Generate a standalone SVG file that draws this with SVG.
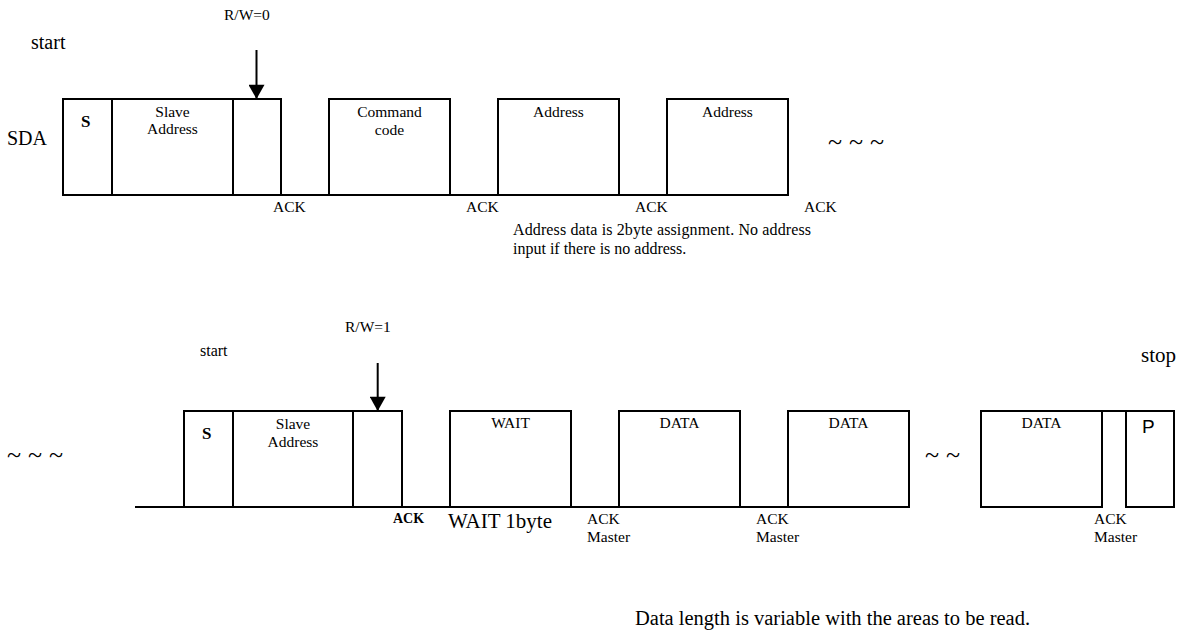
<svg xmlns="http://www.w3.org/2000/svg" width="1182" height="630" viewBox="0 0 1182 630">
<style>
text{font-family:"Liberation Serif","Times New Roman",serif;fill:#000}
.box{fill:#fff;stroke:#000;stroke-width:2}
.wire{fill:none;stroke:#000;stroke-width:2}
.lbl{font-size:15.5px}
.mid{text-anchor:middle}
.big{font-size:20px}
.sb{font-size:17px;font-weight:bold}
.tl{font-size:26px}
.arr{stroke:#000;stroke-width:2;fill:none}
</style>
<defs>
<marker id="ah" markerUnits="userSpaceOnUse" markerWidth="18" markerHeight="16" refX="16" refY="9" orient="auto" viewBox="0 0 16 18">
<path d="M0,0 L16,9 L0,18 z" fill="#000"/>
</marker>
</defs>
<rect width="1182" height="630" fill="#fff"/>

<!-- top labels -->
<text class="lbl" x="224" y="20">R/W=0</text>
<text class="big" x="31" y="49">start</text>
<text class="big" x="7" y="145">SDA</text>
<text class="tl" x="828" y="150" textLength="56">~ ~ ~</text>

<g id="connectors">
<path class="wire" d="M281,195 H329 M450,195 H498 M619,195 H667"/>
<path class="wire" d="M135,507 H184 M402,507 H450 M571,507 H619 M740,507 H788 M1102,411 H1126"/>
<line class="arr" x1="256.5" y1="50" x2="256.5" y2="99" marker-end="url(#ah)"/>
<line class="arr" x1="377.7" y1="363" x2="377.7" y2="411" marker-end="url(#ah)"/>
</g>

<g id="t-s"><rect class="box" x="63" y="99" width="49" height="96"/><text class="sb" x="81" y="127">S</text></g>
<g id="t-slave"><rect class="box" x="112" y="99" width="121" height="96"/><text class="lbl mid" x="172.5" y="117">Slave</text><text class="lbl mid" x="172.5" y="134">Address</text></g>
<g id="t-rw"><rect class="box" x="233" y="99" width="48" height="96"/></g>
<g id="t-cmd"><rect class="box" x="329" y="99" width="121" height="96"/><text class="lbl mid" x="389.5" y="117">Command</text><text class="lbl mid" x="389.5" y="135">code</text></g>
<g id="t-addr1"><rect class="box" x="498" y="99" width="121" height="96"/><text class="lbl mid" x="558.5" y="117">Address</text></g>
<g id="t-addr2"><rect class="box" x="667" y="99" width="121" height="96"/><text class="lbl mid" x="727.5" y="117">Address</text></g>

<text class="lbl" x="273" y="212">ACK</text>
<text class="lbl" x="466" y="212">ACK</text>
<text class="lbl" x="635" y="212">ACK</text>
<text class="lbl" x="804" y="212">ACK</text>
<text x="513" y="235" font-size="16" textLength="298">Address data is 2byte assignment. No address</text>
<text x="513" y="254" font-size="16">input if there is no address.</text>

<!-- bottom labels -->
<text class="lbl" x="345" y="332">R/W=1</text>
<text x="200" y="356" font-size="16">start</text>
<text x="1141" y="362" font-size="21">stop</text>
<text class="tl" x="7" y="463" textLength="56">~ ~ ~</text>
<text class="tl" x="925" y="463" textLength="35">~ ~</text>

<g id="b-s"><rect class="box" x="184" y="411" width="49" height="96"/><text class="sb" x="202" y="439">S</text></g>
<g id="b-slave"><rect class="box" x="233" y="411" width="120" height="96"/><text class="lbl mid" x="293" y="429">Slave</text><text class="lbl mid" x="293" y="447">Address</text></g>
<g id="b-rw"><rect class="box" x="353" y="411" width="49" height="96"/></g>
<g id="b-wait"><rect class="box" x="450" y="411" width="121" height="96"/><text class="lbl mid" x="510.5" y="428">WAIT</text></g>
<g id="b-data1"><rect class="box" x="619" y="411" width="121" height="96"/><text class="lbl mid" x="679.5" y="428">DATA</text></g>
<g id="b-data2"><rect class="box" x="788" y="411" width="121" height="96"/><text class="lbl mid" x="848.5" y="428">DATA</text></g>
<g id="b-data3"><rect class="box" x="981" y="411" width="121" height="96"/><text class="lbl mid" x="1041.5" y="428">DATA</text></g>
<g id="b-p"><rect class="box" x="1126" y="411" width="48" height="96"/><text x="1142" y="433" font-size="19" style="font-family:'Liberation Sans',Arial,sans-serif">P</text></g>

<text x="393" y="523" font-size="14" font-weight="bold">ACK</text>
<text x="448" y="528" font-size="21">WAIT 1byte</text>
<text class="lbl" x="587" y="524">ACK</text><text class="lbl" x="587" y="542">Master</text>
<text class="lbl" x="756" y="524">ACK</text><text class="lbl" x="756" y="542">Master</text>
<text class="lbl" x="1094" y="524">ACK</text><text class="lbl" x="1094" y="542">Master</text>

<text x="635" y="625" font-size="20.5">Data length is variable with the areas to be read.</text>
</svg>
